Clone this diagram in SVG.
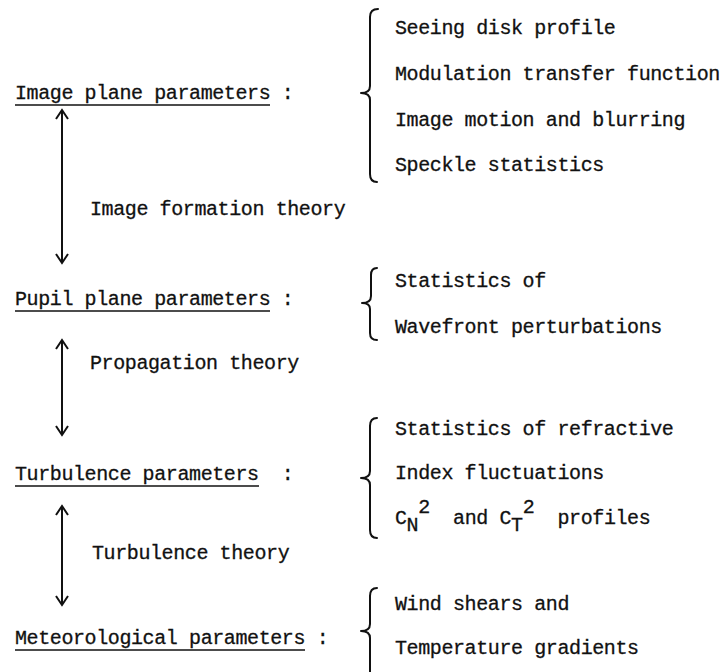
<svg xmlns="http://www.w3.org/2000/svg" width="725" height="672" viewBox="0 0 725 672">
<style>
text{font-family:"Liberation Mono","Courier New",monospace;font-size:20px;letter-spacing:-0.4px;fill:#111;stroke:#111;stroke-width:0.3px;white-space:pre}
.ul{stroke:#111;stroke-width:1.6;fill:none}
.br{stroke:#111;stroke-width:2;fill:none;stroke-linecap:round;stroke-linejoin:round}
.ar{stroke:#111;stroke-width:2;fill:none}
</style>
<defs>
<marker id="head" viewBox="-12 -8 14 16" markerWidth="14" markerHeight="16" refX="0" refY="0" markerUnits="userSpaceOnUse" orient="auto-start-reverse">
<path d="M -9 -6 L 0 0 L -9 6" fill="none" stroke="#111" stroke-width="2"/>
</marker>
</defs>
<rect width="725" height="672" fill="#fff"/>

<g id="connectors">
<line class="ar" x1="62" y1="110" x2="62" y2="263" marker-start="url(#head)" marker-end="url(#head)"/>
<line class="ar" x1="62" y1="340" x2="62" y2="435" marker-start="url(#head)" marker-end="url(#head)"/>
<line class="ar" x1="62" y1="506" x2="62" y2="605" marker-start="url(#head)" marker-end="url(#head)"/>
<text x="90" y="215">Image formation theory</text>
<text x="90" y="369">Propagation theory</text>
<text x="92" y="559">Turbulence theory</text>
</g>

<g id="image-plane">
<text x="15" y="99">Image plane parameters :</text>
<line class="ul" x1="15" y1="105" x2="270" y2="105"/>
<path class="br" d="M378 9 Q370 9 370 17 L370 86 Q370 93 361 93 Q370 93 370 100 L370 174 Q370 182 377 182"/>
<text x="395" y="34">Seeing disk profile</text>
<text x="395" y="80">Modulation transfer function</text>
<text x="395" y="126">Image motion and blurring</text>
<text x="395" y="171">Speckle statistics</text>
</g>

<g id="pupil-plane">
<text x="15" y="305">Pupil plane parameters :</text>
<line class="ul" x1="15" y1="311" x2="270" y2="311"/>
<path class="br" d="M377 268 Q371 268 371 275 L371 296 Q371 303 362 303 Q370 303 370 309 L370 333 Q370 340 377 340"/>
<text x="395" y="287">Statistics of</text>
<text x="395" y="333">Wavefront perturbations</text>
</g>

<g id="turbulence">
<text x="15" y="480">Turbulence parameters  :</text>
<line class="ul" x1="15" y1="486" x2="259" y2="486"/>
<path class="br" d="M377 418 Q370 418 370 426 L370 471 Q370 478 361 478 Q370 478 370 485 L370 530 Q370 538 377 538"/>
<text x="395" y="435">Statistics of refractive</text>
<text x="395" y="479">Index fluctuations</text>
<text x="395" y="524">C<tspan dy="7">N</tspan><tspan dy="-18">2</tspan><tspan dy="11">  and C</tspan><tspan dy="7">T</tspan><tspan dy="-18">2</tspan><tspan dy="11">  profiles</tspan></text>
</g>

<g id="meteorological">
<text x="15" y="644">Meteorological parameters :</text>
<line class="ul" x1="15" y1="650" x2="305" y2="650"/>
<path class="br" d="M377 588 Q370 588 370 596 L370 624 Q370 631 361 631 Q370 631 370 638 L370 672"/>
<text x="395" y="610">Wind shears and</text>
<text x="395" y="654">Temperature gradients</text>
</g>
</svg>
